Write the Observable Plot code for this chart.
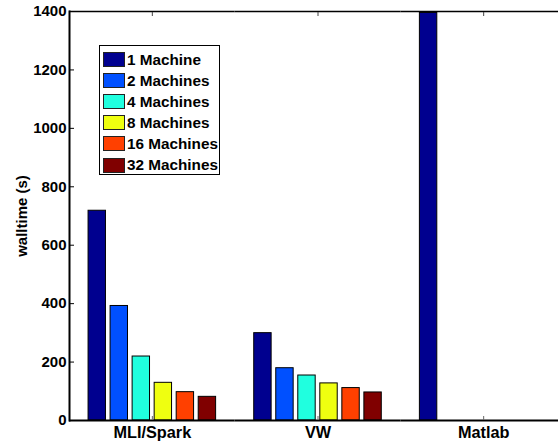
<!DOCTYPE html>
<html>
<head>
<meta charset="utf-8">
<script src="https://cdn.jsdelivr.net/npm/d3@7"></script>
<script src="https://cdn.jsdelivr.net/npm/@observablehq/plot@0.6"></script>
<style>
  html, body { margin: 0; padding: 0; background: #fff; overflow: hidden; }
  #wrap { position: relative; width: 558px; height: 443px; overflow: hidden; font-family: "Liberation Sans", Arial, Helvetica, sans-serif; }
  #wrap svg { max-width: none !important; position: absolute; left: 0; top: 0; }
  #legend { position: absolute; left: 99px; top: 45px; width: 121px; height: 130px; box-sizing: border-box;
            border: 1px solid #000; background: #fff; padding: 3px 0 0 3px; }
  .row { display: flex; align-items: center; height: 21.1px; }
  .sw { width: 22px; height: 15px; box-sizing: border-box; border: 1px solid #222; margin-right: 2px; flex: none; }
  .lab { font-weight: bold; font-size: 15.3px; color: #000; white-space: nowrap; line-height: 1; }
</style>
</head>
<body>
<div id="wrap"></div>
<script>
// ---- data ----
const categories = ["MLI/Spark", "VW", "Matlab"];
const seriesNames = ["1 Machine", "2 Machines", "4 Machines", "8 Machines", "16 Machines", "32 Machines"];
const seriesColors = ["#00008F", "#0050FF", "#20FFDF", "#EFFF10", "#FF4000", "#800000"];
const mliSpark = [718, 392, 219, 129, 97, 81];
const vw = [299, 179, 154, 127, 111, 96];
const matlab = [1395, 0, 0, 0, 0, 0];
const yTicks = [0, 200, 400, 600, 800, 1000, 1200, 1400];

const valuesByCategory = [mliSpark, vw, matlab];
const table = [];
categories.forEach((c, i) => {
  seriesNames.forEach((s, j) => {
    const v = valuesByCategory[i][j];
    if (v > 0) table.push({category: c, series: s, value: v});
  });
});

const chart = Plot.plot({
  width: 566,
  height: 443,
  marginLeft: 69,
  marginRight: 0,
  marginTop: 11,
  marginBottom: 23,
  style: {fontFamily: "'Liberation Sans', Arial, Helvetica, sans-serif", fontSize: "15.5px", fontWeight: "bold", color: "#000", background: "#fff", maxWidth: "none"},
  fx: {domain: categories, padding: 0, round: false, axis: null, label: null},
  x: {domain: seriesNames, paddingInner: 0.21, paddingOuter: 0.865, round: false, axis: null},
  y: {domain: [0, 1400], axis: null},
  color: {domain: seriesNames, range: seriesColors},
  marks: [
    Plot.barY(table, {fx: "category", x: "series", y: "value", fill: "series", stroke: "#000", strokeWidth: 1}),
    Plot.ruleY([1400], {stroke: "#000", strokeWidth: 1.5}),
    Plot.ruleY([0], {stroke: "#000", strokeWidth: 2}),
    Plot.frame({anchor: "left", facetAnchor: "left", stroke: "#000", strokeWidth: 2}),
    Plot.axisY({ticks: yTicks, tickSize: 5, dx: 5, tickFormat: () => "", label: null, stroke: "#000"}),
    Plot.axisY({ticks: yTicks, tickSize: 0, tickPadding: 3, tickFormat: d => String(d),
                label: "walltime (s)", labelAnchor: "center", labelOffset: 53, labelArrow: false,
                fill: "#000", fontWeight: "bold", fontSize: 15}),
    Plot.axisFx({anchor: "bottom", tickSize: 4, dy: -4, tickFormat: () => "", label: null, stroke: "#666"}),
    Plot.axisFx({anchor: "top", tickSize: 4, dy: 4, tickFormat: () => "", label: null, stroke: "#444"}),
    Plot.axisFx({anchor: "bottom", tickSize: 0, tickPadding: 6, label: null, fill: "#000", fontWeight: "bold", fontSize: 16.3})
  ]
});

const wrap = document.getElementById("wrap");
wrap.appendChild(chart);

const legend = document.createElement("div");
legend.id = "legend";
seriesNames.forEach((s, i) => {
  const row = document.createElement("div");
  row.className = "row";
  const sw = document.createElement("div");
  sw.className = "sw";
  sw.style.background = seriesColors[i];
  const lab = document.createElement("span");
  lab.className = "lab";
  lab.textContent = s;
  row.appendChild(sw);
  row.appendChild(lab);
  legend.appendChild(row);
});
wrap.appendChild(legend);
</script>
</body>
</html>
